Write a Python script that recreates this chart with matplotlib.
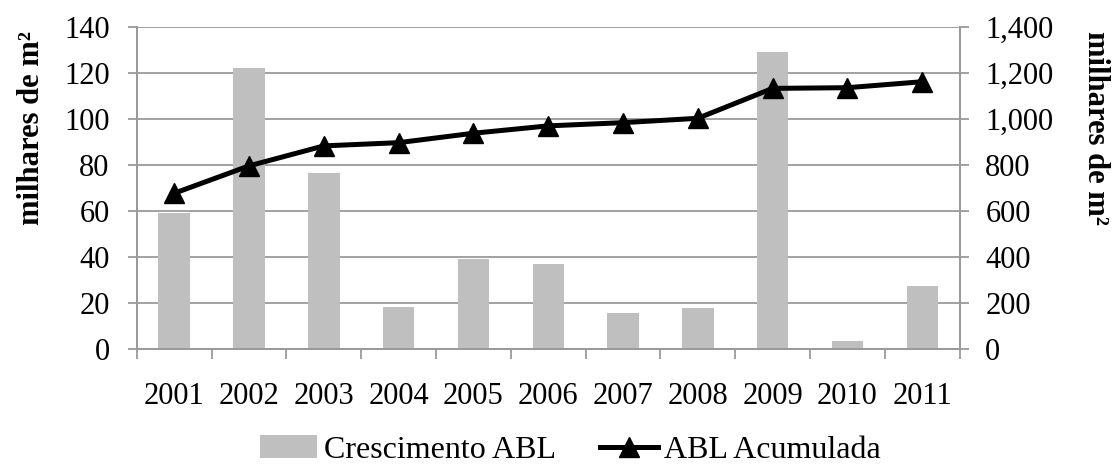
import matplotlib
matplotlib.use("Agg")
import matplotlib.pyplot as plt
import numpy as np

years = ["2001", "2002", "2003", "2004", "2005", "2006", "2007", "2008", "2009", "2010", "2011"]
crescimento = [59, 122, 76.4, 18.4, 39.3, 36.8, 15.7, 17.7, 129, 3.5, 27.3]
acumulada = [677, 796, 883, 897, 938, 970, 984, 1003, 1133, 1136, 1162]

plt.rcParams['font.family'] = ['Liberation Serif', 'DejaVu Serif']

fig = plt.figure(figsize=(11.12, 4.65), dpi=100)
ax = fig.add_axes([0.123, 0.2495, 0.740, 0.6925])
ax2 = ax.twinx()

x = np.arange(len(years))
grid_c = '#9A9A9A'
ax.bar(x, crescimento, width=0.42, color='#BFBFBF', zorder=2, label='Crescimento ABL')
ax2.plot(x, acumulada, color='black', lw=3.6, marker='^', markersize=15, zorder=3, label='ABL Acumulada')

ax.set_xlim(-0.5, len(years) - 0.5)
ax.set_ylim(0, 140)
ax2.set_ylim(0, 1400)
ax.set_yticks(np.arange(0, 141, 20))
ax2.set_yticks(np.arange(0, 1401, 200))
ax2.set_yticklabels([f"{v:,}" for v in range(0, 1401, 200)])
ax.yaxis.grid(True, color=grid_c, lw=1.3, zorder=0)
ax.set_axisbelow(True)

FS = 22
ax.set_xticks(x)
ax.set_xticklabels(years)
ax.set_xticks(np.arange(-0.5, len(years), 1), minor=True)
ax.tick_params(axis='x', which='major', length=0, pad=24, labelsize=FS)
ax.tick_params(axis='x', which='minor', length=7, color=grid_c, width=1.3)
ax.tick_params(axis='y', length=6.5, color=grid_c, width=1.3, labelsize=FS, pad=13)
ax2.tick_params(axis='y', length=6.5, color=grid_c, width=1.3, labelsize=FS, pad=12)

for a in (ax, ax2):
    a.spines['top'].set_visible(False)
    for s in ['left', 'right', 'bottom']:
        a.spines[s].set_color(grid_c)
        a.spines[s].set_linewidth(1.3)

ax.set_ylabel('milhares de m²', fontsize=FS, fontweight='bold', va='center')
ax2.set_ylabel('milhares de m²', fontsize=FS, fontweight='bold', rotation=270, va='center')
ax.yaxis.set_label_coords(32 / 1112, 1 - 128 / 465, transform=fig.transFigure)
ax2.yaxis.set_label_coords(1096 / 1112, 1 - 128 / 465, transform=fig.transFigure)

h1, l1 = ax.get_legend_handles_labels()
h2, l2 = ax2.get_legend_handles_labels()
fig.legend(h1 + h2, l1 + l2, loc='center', bbox_to_anchor=(0.513, 0.032), ncol=2,
           frameon=False, fontsize=23, handlelength=1.8, handletextpad=0.2, columnspacing=1.4)

fig.savefig('out.png', dpi=100)
